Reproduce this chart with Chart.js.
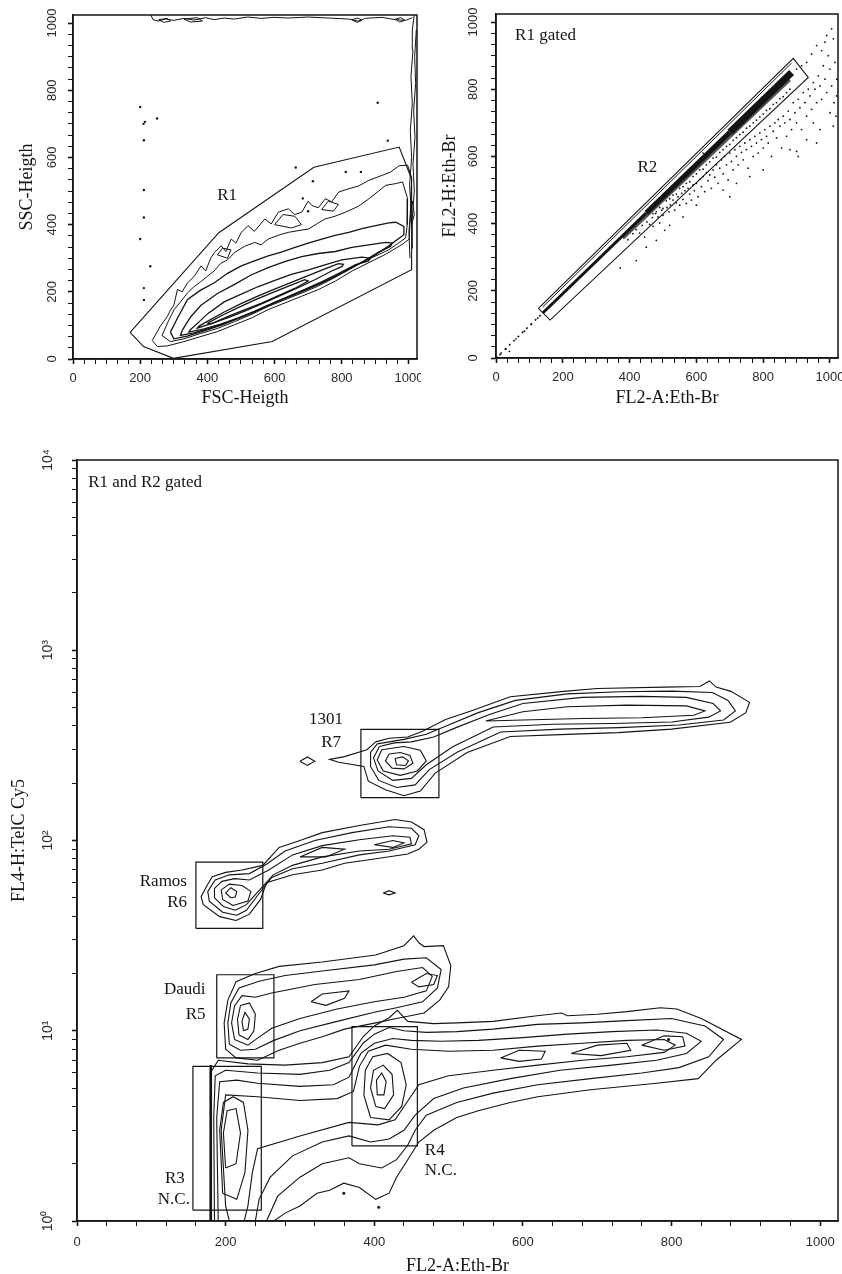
<!DOCTYPE html>
<html>
<head>
<meta charset="utf-8">
<script src="https://cdn.jsdelivr.net/npm/chart.js@4.4.1/dist/chart.umd.min.js"></script>
<style>
  body { margin: 0; background: #fff; width: 842px; height: 1274px; position: relative; overflow: hidden; }
  canvas { position: absolute; }
  #scatterFsc { left: 0; top: 0; }
  #scatterFl2 { left: 421px; top: 0; }
  #contourFl4 { left: 0; top: 430px; }
</style>
</head>
<body>
<canvas id="scatterFsc" width="421" height="420"></canvas>
<canvas id="scatterFl2" width="421" height="420"></canvas>
<canvas id="contourFl4" width="842" height="850"></canvas>
<script>
// ---- tick labels ----
const channelLabels = [0, 200, 400, 600, 800, 1000];
const logPowers = [1, 10, 100, 1000, 10000];
const logLabels = ['10⁰', '10¹', '10²', '10³', '10⁴'];

// ---- panel 1: FSC-Heigth vs SSC-Heigth ----
const r1Gate = [[170,79],[434,376],[717,571],[971,631],[1008,536],[1008,266],[593,52],[299,2],[210,37]];
const fscLevels = [
  [[236,55],[260,98],[281,127],[290,145],[300,160],[311,207],[325,200],[341,227],[360,245],[381,277],[395,262],[410,300],[421,317],[441,337],[455,320],[471,357],[485,345],[501,377],[521,397],[540,380],[571,417],[590,402],[611,437],[641,447],[660,430],[681,437],[700,470],[711,457],[730,450],[751,477],[770,468],[791,497],[821,507],[850,515],[881,532],[921,547],[946,557],[970,575],[996,577],[1008,540],[1005,450],[1001,357],[981,342],[931,312],[881,287],[831,262],[781,232],[731,207],[681,187],[631,167],[581,147],[531,122],[481,102],[431,82],[381,67],[331,52],[281,39],[251,37]],
  [[265,70],[285,115],[301,147],[320,170],[341,197],[360,215],[380,230],[401,247],[420,262],[440,285],[460,295],[481,317],[510,335],[541,347],[560,340],[581,357],[610,368],[641,377],[670,382],[701,387],[730,405],[751,417],[780,425],[811,437],[850,455],[881,477],[910,500],[931,517],[960,522],[981,527],[996,477],[995,400],[990,360],[940,325],[880,297],[830,272],[780,243],[730,217],[680,196],[630,176],[580,156],[530,132],[480,111],[430,91],[380,76],[330,60],[290,52]],
  [[290,80],[310,120],[341,177],[380,205],[421,227],[460,255],[501,277],[540,292],[581,307],[620,318],[661,332],[700,345],[741,357],[780,368],[821,377],[860,388],[901,397],[940,405],[961,407],[985,395],[985,370],[935,333],[890,304],[840,278],[790,250],[740,226],[690,204],[640,184],[590,163],[540,140],[490,120],[440,100],[390,84],[340,68],[300,60]],
  [[325,85],[350,125],[381,160],[430,195],[481,222],[530,250],[581,272],[630,290],[681,305],[730,314],[781,320],[830,332],[861,337],[900,343],[931,347],[950,345],[945,335],[910,318],[860,288],[810,260],[760,236],[710,214],[660,192],[610,172],[560,150],[510,128],[460,110],[410,93],[360,78],[320,70]],
  [[350,88],[380,115],[401,135],[450,170],[501,193],[550,215],[601,234],[650,252],[701,265],[750,280],[800,295],[860,303],[885,300],[880,292],[840,280],[790,254],[740,230],[690,207],[640,186],[590,164],[540,142],[490,122],[440,104],[390,90],[345,80]],
  [[375,98],[400,112],[450,140],[500,165],[550,187],[600,208],[650,228],[700,248],[750,268],[790,284],[805,282],[800,275],[770,262],[720,236],[670,212],[620,190],[570,168],[520,146],[470,126],[420,108],[370,92]],
  [[400,106],[440,128],[490,152],[540,175],[590,196],[640,216],[690,236],[700,232],[660,210],[610,188],[560,166],[510,146],[460,126],[410,104]]
];
const fscIslands = [
  [[600,400],[625,430],[660,425],[680,400],[650,390]],
  [[430,310],[445,330],[470,325],[460,300]],
  [[740,445],[760,470],[790,460],[775,440]],
  [[255,1010],[270,1002],[290,1006],[280,1014]],
  [[330,1012],[350,1003],[385,1006],[370,1016]],
  [[830,1010],[845,1002],[860,1008],[848,1015]],
  [[960,1012],[972,1003],[988,1008],[976,1016]],
  [[1008,400],[1004,440],[1010,470],[1016,430]]
];
const fscEdges = [
  [[232,1024],[238,1010],[255,1006],[275,1012],[300,1008],[330,1014],[360,1009],[395,1016],[420,1010],[450,1015],[480,1012],[520,1018],[560,1014],[600,1017],[640,1015],[700,1018],[760,1015],[820,1012],[850,1006],[870,1014],[920,1017],[960,1010],[990,1008],[1010,1016]],
  [[1003,300],[1000,380],[1006,450],[1002,520],[1008,600],[1004,680],[1010,760],[1006,840],[1012,920],[1010,980],[1016,1024]],
  [[1012,330],[1010,420],[1016,500],[1012,580],[1018,660],[1014,740],[1020,820],[1017,900],[1022,980]]
];
const fscDots = [[210,700],[214,706],[200,750],[250,716],[211,651],[211,503],[211,421],[200,357],[230,276],[211,211],[211,176],[907,763],[937,650],[663,570],[714,529],[684,478],[700,440],[812,557],[857,557]];
const fscNotes = [['R1', 459, 488, 'center']];

// ---- panel 2: FL2-A vs FL2-H ----
const r2Gate = [[127,148],[162,113],[935,835],[890,892]];
const r2Inner = [[140,152],[885,878]];
const fl2Sparse = [[0,0],[140,134]];
const fl2Band = [[140,134],[450,432],[700,672],[885,850]];
const fl2Shadow = [[380,356],[880,828]];
const fl2Dots = [[372,268],[395,352],[410,370],[420,382],[430,372],[438,395],[445,360],[452,405],[460,398],[468,418],[470,392],[478,430],[485,420],[490,402],[496,440],[500,425],[505,380],[512,448],[518,435],[522,456],[530,470],[535,440],[540,462],[545,480],[550,455],[556,490],[560,472],[566,498],[570,460],[575,505],[580,488],[585,470],[590,515],[594,498],[600,520],[605,480],[610,532],[615,510],[620,540],[625,495],[630,552],[635,528],[640,545],[645,505],[650,560],[655,538],[660,575],[665,520],[670,565],[675,590],[680,548],[684,600],[690,575],[695,530],[700,610],[705,585],[710,560],[715,620],[720,600],[725,575],[730,630],[735,612],[740,590],[745,640],[750,620],[755,565],[760,650],[765,630],[770,600],[775,660],[780,640],[785,610],[790,670],[795,650],[800,625],[805,680],[810,660],[815,640],[820,690],[825,600],[830,675],[835,700],[840,655],[845,710],[850,690],[855,625],[860,720],[865,700],[870,660],[875,735],[880,710],[885,680],[890,760],[895,730],[900,700],[905,770],[910,745],[915,680],[920,790],[925,760],[930,720],[935,800],[940,780],[945,740],[950,820],[955,800],[960,760],[965,840],[970,810],[975,770],[980,870],[985,830],[990,790],[995,900],[1000,860],[1005,810],[1010,950],[1015,880],[1020,830],[930,880],[945,905],[960,930],[975,915],[990,960],[1005,980],[985,940],[900,860],[915,870],[1012,760],[1018,720],[1020,780],[960,640],[930,650],[905,600],[880,620],[640,600],[620,610],[600,455],[560,420],[520,395],[480,350],[450,330],[420,290],[900,615],[950,700],[1000,730],[970,680],[1010,690],[800,560],[760,540],[720,520],[680,500],[700,480],[40,20],[12,10],[30,27],[60,57],[85,80],[105,100],[125,119],
  [470,430],[490,448],[510,468],[530,485],[550,505],[570,520],[590,540],[610,560],[630,575],[650,595],[670,612],[690,630],[710,648],[730,665],[750,684],[770,700],[790,718],[810,737],[830,755],[850,772],[870,790],[480,436],[520,474],[560,510],[600,548],[640,584],[680,620],[720,656],[760,690],[800,726],[840,760],[880,800],[500,445],[540,488],[580,525],[620,562],[660,598],[700,636],[740,672],[780,708],[820,742],[860,778]];
const fl2Notes = [['R1 gated', 57, 961, 'left'], ['R2', 453, 566, 'center']];

// ---- panel 3: FL2-A vs FL4-H (log) ----
// gates as [xMin, xMax, yMin, yMax]
const r3Gate = [156, 248, 1.14, 6.5];
const r4Gate = [370, 458, 2.48, 10.5];
const r5Gate = [188, 265, 7.2, 19.7];
const r6Gate = [160, 250, 34.5, 77];
const r7Gate = [382, 487, 168, 384];
const ncLevels = [
  [[180,1.0],[179,3],[180,6],[190,7.0],[230,6.7],[280,6.6],[330,6.8],[366,7.3],[385,9.3],[400,10.6],[420,11.7],[431,12.8],[445,11.2],[480,10.9],[511,11.0],[560,11.2],[619,12.0],[652,12.4],[660,12.0],[700,12.2],[740,12.6],[785,13.2],[807,13.0],[840,11.6],[894,9.0],[860,7.0],[836,5.6],[780,5.3],[691,4.9],[620,4.5],[583,4.2],[540,3.8],[511,3.5],[480,3.0],[460,2.6],[445,2.1],[430,1.7],[420,1.4],[402,1.3],[380,1.5],[359,1.58],[340,1.45],[323,1.4],[300,1.2],[280,1.1],[265,1.0]],
  [[185,1.0],[184,3.5],[186,5.8],[200,6.2],[243,6.0],[300,5.9],[340,6.2],[366,6.8],[385,8.6],[400,9.6],[420,10.4],[440,10.0],[470,9.8],[511,9.9],[560,10.2],[619,10.8],[680,11.0],[740,11.3],[800,11.6],[845,10.6],[870,9.0],[850,7.3],[810,6.4],[760,6.0],[691,5.6],[620,5.2],[560,4.7],[511,4.2],[470,3.6],[455,3.0],[445,2.5],[430,2.1],[410,1.9],[380,2.0],[366,2.15],[330,2.0],[300,1.7],[270,1.35],[255,1.0]],
  [[190,1.0],[188,3.5],[192,5.4],[215,5.5],[243,5.3],[300,5.1],[345,5.2],[366,5.7],[382,7.6],[400,8.6],[425,9.1],[450,8.9],[490,8.8],[540,8.9],[600,9.2],[660,9.6],[720,9.9],[780,10.1],[820,9.7],[840,8.8],[820,7.6],[780,7.0],[720,6.6],[650,6.2],[583,5.6],[520,5.0],[480,4.4],[455,3.6],[440,3.0],[420,2.7],[395,2.6],[366,2.8],[330,2.6],[290,2.2],[260,1.7],[245,1.3],[240,1.0]],
  [[200,1.2],[194,3],[200,4.6],[243,4.5],[300,4.3],[350,4.4],[372,4.8],[380,6.5],[392,7.8],[415,8.4],[450,8.0],[500,7.8],[560,7.9],[620,8.3],[680,8.6],[740,8.9],[790,9.0],[805,8.4],[790,7.7],[740,7.3],[680,7.0],[620,6.6],[560,6.2],[500,5.8],[460,5.2],[440,4.0],[428,3.4],[405,3.2],[366,3.3],[300,2.8],[243,2.4],[236,1.8],[230,1.2],[225,1.0],[205,1.0]]
];
const r3Loops = [
  [[196,1.4],[192,3],[197,4.2],[210,4.5],[224,4.2],[230,3.0],[226,1.8],[215,1.3]],
  [[200,1.9],[197,2.9],[202,3.8],[214,3.9],[220,2.9],[214,2.0]]
];
const r4Loops = [
  [[395,3.5],[386,4.6],[388,6.2],[398,7.3],[418,7.6],[436,6.8],[443,5.2],[437,4.0],[420,3.4]],
  [[402,4.0],[395,5.0],[399,6.2],[412,6.6],[424,5.9],[426,4.6],[414,3.9]],
  [[404,4.6],[403,5.5],[410,6.0],[416,5.4],[413,4.6]]
];
const tailLoops = [
  [[570,7.2],[595,7.9],[630,7.8],[625,7.1],[595,6.9]],
  [[665,7.6],[700,8.4],[740,8.6],[745,7.9],[705,7.4]],
  [[760,8.4],[790,9.4],[815,9.3],[818,8.3],[790,7.9]]
];
const r3Edge = [[180,1.0],[180,6.6]];
const daudiLoops = [
  [[200,8.0],[198,11],[203,14.5],[214,18.1],[240,20.0],[272,21.8],[330,23],[402,25],[440,28],[453,31.5],[460,29],[467,27.7],[493,28],[503,22],[500,17],[488,14.5],[467,12.4],[430,11.6],[402,11.0],[360,10.2],[330,9.3],[300,8.6],[272,7.9],[243,7.0],[214,7.2]],
  [[205,8.5],[203,11],[207,14],[218,16.8],[245,18.2],[280,19.5],[330,20.6],[400,22.2],[440,23.8],[470,24.2],[490,21],[485,16.8],[465,14.2],[430,13.2],[400,12.5],[350,11.2],[300,10.0],[265,8.9],[240,8.0],[220,7.9]],
  [[212,9.0],[208,11],[212,13.5],[222,15.3],[240,15.0],[262,15.8],[320,17.5],[380,18.6],[430,20.5],[465,21.5],[478,19.3],[470,16.2],[440,15.0],[400,14.2],[350,13.0],[300,11.6],[262,10.3],[244,9.2],[230,8.4]],
  [[218,9.5],[216,11.5],[220,13.6],[232,14.0],[240,12.2],[238,10],[230,9.0]],
  [[315,14.2],[330,15.6],[366,16.2],[360,14.8],[335,13.6]],
  [[450,18.0],[470,20.0],[485,19.5],[480,17.5],[460,17.0]],
  [[224,10.0],[222,11.2],[226,12.5],[232,11.5],[230,10.2]]
];
const ramosLoops = [
  [[214,38],[192,39.8],[170,46],[167,50.7],[175,58],[182,64.5],[200,68],[222,70],[250,74],[272,92],[300,100],[330,110],[380,120],[428,129],[450,125],[467,114],[471,98],[460,90],[445,85],[400,80],[360,76],[330,70],[290,66],[255,60],[247,49],[232,41]],
  [[215,40.5],[196,42],[178,48],[176,54],[186,62],[205,66],[232,67],[255,75],[280,88],[320,100],[370,110],[420,118],[450,116],[460,106],[455,95],[420,88],[380,84],[330,76],[290,71],[262,64],[244,52],[228,43]],
  [[213,43],[197,45],[185,50],[185,56],[195,61],[212,63],[232,62],[258,70],[290,84],[330,94],[380,101],[425,106],[448,104],[450,96],[420,90],[380,88],[330,82],[290,74],[264,66],[240,52],[228,46]],
  [[210,45.5],[196,49],[194,55],[205,59],[222,58],[234,54],[230,48]],
  [[300,82],[330,92],[360,90],[335,82]],
  [[400,95],[425,100],[440,97],[425,92]],
  [[207,50],[200,53],[207,56.5],[215,54],[213,50.5]],
  [[412,53],[420,54.5],[428,53],[420,51.8]]
];
const loops1301 = [
  [[402,330],[390,300],[360,276],[340,267],[352,258],[386,245],[392,205],[415,185],[440,172],[462,182],[482,226],[525,290],[583,352],[650,360],[728,369],[800,385],[879,418],[900,470],[905,532],[880,608],[860,640],[851,690],[838,645],[790,640],[700,630],[655,608],[583,570],[530,480],[496,433],[465,375],[445,350],[420,345]],
  [[404,322],[395,290],[395,245],[406,207],[430,190],[455,196],[474,236],[512,292],[570,372],[650,385],[730,392],[810,405],[870,430],[886,480],[876,545],[855,600],[800,610],[730,605],[660,590],[590,545],[540,470],[500,405],[470,362],[440,340]],
  [[407,312],[399,272],[405,232],[425,207],[450,212],[470,250],[505,310],[560,395],[640,408],[720,412],[800,420],[850,445],[866,480],[856,525],[820,565],[760,572],[680,565],[600,525],[555,460],[510,392],[480,350],[450,330],[427,326]],
  [[410,300],[404,265],[412,232],[435,220],[458,232],[470,262],[462,298],[440,312]],
  [[550,425],[600,475],[660,505],[740,515],[820,510],[845,480],[830,455],[760,442],[680,438],[600,430]],
  [[420,285],[415,262],[424,240],[440,238],[452,255],[448,280],[435,290]],
  [[428,270],[430,250],[442,248],[446,262],[438,275]],
  [[300,261],[310,275],[320,261],[310,248]]
];
const fl4Dots = [[406,1.18],[796,9.0],[359,1.4]];
const fl4Notes = [
  ['R1 and R2 gated', 15, 7568, 'left'],
  ['1301', 335, 430, 'center'], ['R7', 342, 327, 'center'],
  ['Ramos', 148, 61, 'right'], ['R6', 148, 47.3, 'right'],
  ['Daudi', 173, 16.4, 'right'], ['R5', 173, 12.1, 'right'],
  ['R3', 145, 1.68, 'right'], ['N.C.', 152, 1.29, 'right'],
  ['R4', 468, 2.36, 'left'], ['N.C.', 468, 1.85, 'left']
];

// ---- helpers ----
const ink = '#141414';
const tickColor = '#2a2a2a';
const tickFont = { family: '"Liberation Sans", Arial, sans-serif', size: 13 };
const titleFont = { family: '"Liberation Serif", "Times New Roman", serif', size: 18 };

function pts(arr) { return arr.map(p => ({ x: p[0], y: p[1] })); }
function loop(arr) { return pts(arr.concat([arr[0]])); }
function box(b) { return loop([[b[0], b[2]], [b[1], b[2]], [b[1], b[3]], [b[0], b[3]]]); }
function lineSet(data, width, extra) {
    return Object.assign({ data: data, showLine: true, borderColor: ink, borderWidth: width || 1.1,
        pointRadius: 0, fill: false, tension: 0 }, extra || {});
}
function dotSet(arr, r) {
    return { data: pts(arr), showLine: false, pointRadius: r, pointBackgroundColor: ink, pointBorderWidth: 0 };
}
function isLabelled(v, list) { return list.some(l => Math.abs(l - v) < 0.01); }
function zeroPad(s) { s.paddingLeft = 0; s.paddingRight = 0; s.paddingTop = 0; s.paddingBottom = 0; }
function channelTicks(step) {
    const out = [];
    for (let i = 0; i * step <= 1000.001; i++) out.push({ value: i * step });
    return out;
}
function gridStyle(labels) {
    return { drawOnChartArea: false, drawTicks: true, tickLength: 5, tickColor: ink,
        tickWidth: ctx => (ctx.tick && isLabelled(ctx.tick.value, labels)) ? 1.6 : 1 };
}
const borderStyle = { display: true, color: ink, width: 1.5 };

function xChannelAxis(title, step, height, tickPad, titlePad) {
    return {
        type: 'linear', position: 'bottom', min: 0, max: 1024,
        afterBuildTicks: s => { s.ticks = channelTicks(step); },
        afterFit: s => { s.height = height; zeroPad(s); },
        ticks: { autoSkip: false, maxRotation: 0, minRotation: 0, padding: tickPad, color: tickColor, font: tickFont,
            callback: v => isLabelled(v, channelLabels) ? String(Math.round(v)) : '' },
        grid: gridStyle(channelLabels),
        border: borderStyle,
        title: { display: true, text: title, color: ink, font: titleFont, padding: { top: 0, bottom: titlePad } }
    };
}
function yChannelAxis(title, step, width, tickPad, titlePad) {
    return {
        type: 'linear', position: 'left', min: 0, max: 1024,
        afterBuildTicks: s => { s.ticks = channelTicks(step); },
        afterFit: s => { s.width = width; zeroPad(s); },
        ticks: { autoSkip: false, minRotation: 90, maxRotation: 90, crossAlign: 'center', padding: tickPad,
            color: tickColor, font: tickFont,
            callback: v => isLabelled(v, channelLabels) ? String(Math.round(v)) : '' },
        grid: gridStyle(channelLabels),
        border: borderStyle,
        title: { display: true, text: title, color: ink, font: titleFont, padding: { top: titlePad, bottom: 0 } }
    };
}
function yLogAxis(title, width, tickPad, titlePad) {
    const values = [];
    for (let d = 0; d < 4; d++) for (let m = 1; m <= 9; m++) values.push(m * logPowers[d]);
    values.push(logPowers[4]);
    return {
        type: 'logarithmic', position: 'left', min: 1, max: 10000,
        afterBuildTicks: s => { s.ticks = values.map(v => ({ value: v })); },
        afterFit: s => { s.width = width; zeroPad(s); },
        ticks: { autoSkip: false, minRotation: 90, maxRotation: 90, crossAlign: 'center', padding: tickPad,
            color: tickColor, font: { family: tickFont.family, size: 14 },
            callback: v => { const i = logPowers.indexOf(v); return i >= 0 ? logLabels[i] : ''; } },
        grid: gridStyle(logPowers),
        border: borderStyle,
        title: { display: true, text: title, color: ink, font: titleFont, padding: { top: titlePad, bottom: 0 } }
    };
}

const framePlugin = {
    id: 'frame',
    afterDraw(chart) {
        const a = chart.chartArea, c = chart.ctx;
        c.save();
        c.strokeStyle = ink;
        c.lineWidth = 1.5;
        c.strokeRect(a.left, a.top, a.right - a.left, a.bottom - a.top);
        c.restore();
    }
};
const notePlugin = {
    id: 'notes',
    afterDatasetsDraw(chart, args, opts) {
        const c = chart.ctx, xs = chart.scales.x, ys = chart.scales.y;
        c.save();
        c.fillStyle = ink;
        c.font = '17px "Liberation Serif", "Times New Roman", serif';
        c.textBaseline = 'middle';
        (opts.items || []).forEach(t => {
            c.textAlign = t[3];
            c.fillText(t[0], xs.getPixelForValue(t[1]), ys.getPixelForValue(t[2]));
        });
        c.restore();
    }
};

function makeOptions(padding, xAxis, yAxis, notes) {
    return {
        responsive: false, animation: false, devicePixelRatio: 1, events: [],
        layout: { padding: padding },
        scales: { x: xAxis, y: yAxis },
        plugins: { legend: { display: false }, tooltip: { enabled: false }, notes: { items: notes } }
    };
}

// ---- panel 1 ----
new Chart(document.getElementById('scatterFsc'), {
    type: 'scatter',
    data: {
        datasets: [lineSet(loop(r1Gate), 1.1)]
            .concat(fscLevels.map((l, i) => lineSet(loop(l), i < 2 ? 1 : 1.3)))
            .concat(fscIslands.map(l => lineSet(loop(l), 1)))
            .concat(fscEdges.map(l => lineSet(pts(l), 1)))
            .concat([dotSet(fscDots, 1.2)])
    },
    options: makeOptions({ left: 0, right: 4, top: 15, bottom: 0 },
        xChannelAxis('FSC-Heigth', 200 / 6, 61, 7, 11),
        yChannelAxis('SSC-Heigth', 200 / 6, 73, 1, 16), fscNotes),
    plugins: [framePlugin, notePlugin]
});

// ---- panel 2 ----
new Chart(document.getElementById('scatterFl2'), {
    type: 'scatter',
    data: {
        datasets: [
            lineSet(loop(r2Gate), 1.1),
            lineSet(pts(r2Inner), 1),
            lineSet(pts(fl2Sparse), 1.6, { borderDash: [2, 4] }),
            lineSet(pts(fl2Band), 3, { segment: { borderWidth: c => [3, 5, 7][c.p0DataIndex] } }),
            lineSet(pts(fl2Shadow), 3, { borderColor: '#555' }),
            dotSet(fl2Dots, 0.9)
        ]
    },
    options: makeOptions({ left: 0, right: 2, top: 14, bottom: 0 },
        xChannelAxis('FL2-A:Eth-Br', 200 / 6, 62, 7, 11),
        yChannelAxis('FL2-H:Eth-Br', 200 / 6, 75, 3, 18), fl2Notes),
    plugins: [framePlugin, notePlugin]
});

// ---- panel 3 ----
new Chart(document.getElementById('contourFl4'), {
    type: 'scatter',
    data: {
        datasets: [r3Gate, r4Gate, r5Gate, r6Gate, r7Gate].map(g => lineSet(box(g), 1.2))
            .concat(ncLevels.map(l => lineSet(loop(l), 1.1)))
            .concat(r3Loops.concat(r4Loops, tailLoops, daudiLoops, ramosLoops, loops1301).map(l => lineSet(loop(l), 1.1)))
            .concat([lineSet(pts(r3Edge), 2.6), dotSet(fl4Dots, 1.5)])
    },
    options: makeOptions({ left: 0, right: 2, top: 30, bottom: 0 },
        xChannelAxis('FL2-A:Eth-Br', 40, 59, 9, 3),
        yLogAxis('FL4-H:TelC Cy5', 77, 13, 8), fl4Notes),
    plugins: [framePlugin, notePlugin]
});
</script>
</body>
</html>
